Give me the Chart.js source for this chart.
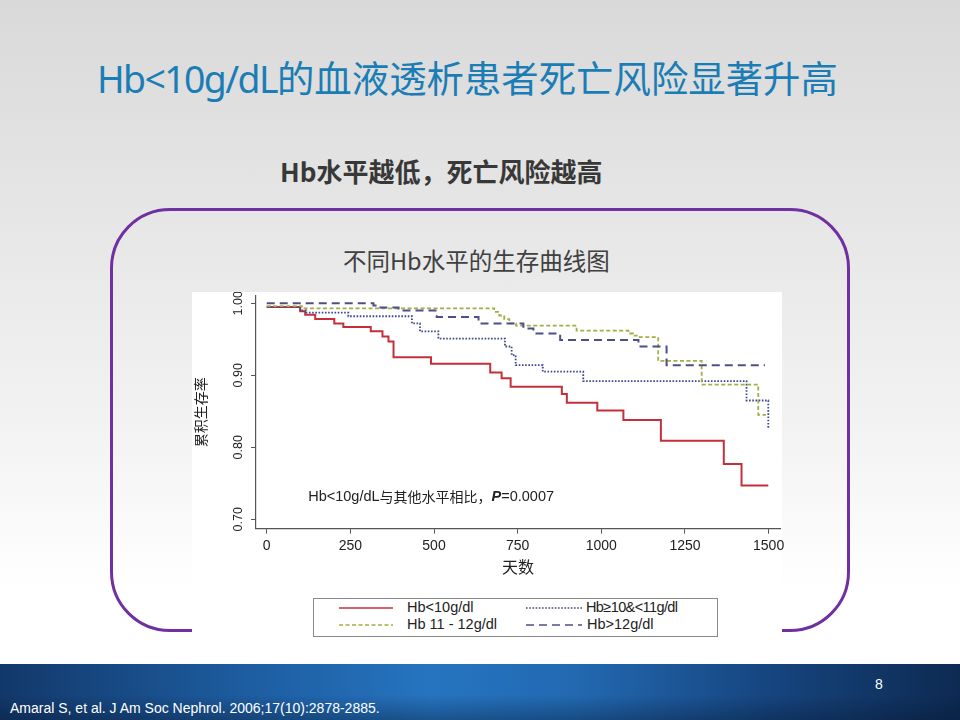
<!DOCTYPE html>
<html lang="zh-CN">
<head>
<meta charset="utf-8">
<title>Hb&lt;10g/dL的血液透析患者死亡风险显著升高</title>
<script src="https://cdn.jsdelivr.net/npm/chart.js@4.4.1/dist/chart.umd.min.js"></script>
<style>
  html, body { margin: 0; padding: 0; }
  body { width: 960px; height: 720px; overflow: hidden; }
  .slide {
    position: relative;
    width: 960px;
    height: 720px;
    background: linear-gradient(180deg, #d9d9d9 0%, #e6e6e6 30%, #f3f3f3 60%, #ffffff 82%, #ffffff 100%);
    font-family: "Noto Sans CJK SC", "Noto Sans", sans-serif;
    overflow: hidden;
  }
  .title {
    position: absolute;
    left: 97px; top: 50px;
    white-space: nowrap;
    font-size: 37.4px;
    color: #1b7db5;
  }
  .title .latin { font-family: "Noto Sans", sans-serif; letter-spacing: -1.6px; }
  .subtitle {
    position: absolute;
    left: 280px; top: 152px;
    white-space: nowrap;
    font-size: 26px;
    font-weight: bold;
    color: #383838;
  }
  .panel {
    position: absolute;
    left: 110px; top: 208px;
    width: 740px; height: 424px;
    border: 3px solid #7030a0;
    border-radius: 60px;
    box-sizing: border-box;
  }
  .panel-title {
    position: absolute;
    left: 343px; top: 243px;
    white-space: nowrap;
    font-size: 23.5px;
    color: #404040;
  }
  .figure {
    position: absolute;
    left: 192px; top: 292px;
    width: 590px; height: 348px;
    background: #ffffff;
  }
  #km { position: absolute; left: 0; top: 0; }
  .legend {
    position: absolute;
    left: 121px; top: 306px;
    width: 405px; height: 39px;
    border: 1px solid #8a8a8a;
    box-sizing: border-box;
    font-family: "Liberation Sans", Arial, sans-serif;
    font-size: 14.5px;
    color: #222;
  }
  .legend .item { position: absolute; height: 17px; line-height: 17px; white-space: nowrap; }
  .legend svg { position: absolute; left: 0; top: 0; }
  .legend span { position: absolute; top: 0; }
  .footer {
    position: absolute;
    left: 0; top: 664px; width: 960px; height: 56px;
    background:
      linear-gradient(180deg, rgba(0,0,0,0) 0%, rgba(0,0,0,0) 55%, rgba(5,20,45,0.35) 100%),
      linear-gradient(90deg, #12386a 0%, #1d5c9f 25%, #2674c0 45%, #2269b1 60%, #16457f 80%, #0d2a52 100%);
  }
  .page-no {
    position: absolute;
    left: 875px; top: 676px;
    font-family: "Liberation Sans Narrow", "Liberation Sans", sans-serif;
    font-size: 14px;
    color: #ffffff;
  }
  .cite {
    position: absolute;
    left: 10px; top: 700px;
    font-family: "Liberation Sans Narrow", "Liberation Sans", sans-serif;
    font-size: 14px;
    color: #ffffff;
  }
</style>
</head>
<body>
<div class="slide">
  <div class="title"><span class="latin">Hb&lt;10g/dL</span>的血液透析患者死亡风险显著升高</div>
  <div class="subtitle">Hb水平越低，死亡风险越高</div>
  <div class="panel"></div>
  <div class="panel-title">不同Hb水平的生存曲线图</div>
  <div class="figure">
    <canvas id="km" width="604" height="300"></canvas>
    <div class="legend" id="legend"></div>
  </div>
  <div class="footer"></div>
  <div class="page-no">8</div>
  <div class="cite">Amaral S, et al. J Am Soc Nephrol. 2006;17(10):2878-2885.</div>
</div>
<script>
(function () {
  "use strict";

  // axis ticks
  const xTickValues = [0, 250, 500, 750, 1000, 1250, 1500];
  const yTickValues = [0.7, 0.8, 0.9, 1.0];

  const seriesLabels = ["Hb<10g/dl", "Hb≥10&<11g/dl", "Hb 11 - 12g/dl", "Hb>12g/dl"];

  // Kaplan-Meier steps: day of drop, survival after drop
  const hbLt10Days = [0, 100, 115, 145, 202, 229, 311, 346, 364, 379, 491, 668, 702, 729, 882, 897, 988, 1066, 1178, 1366, 1419, 1499];
  const hbLt10Surv = [0.995, 0.989, 0.984, 0.978, 0.972, 0.967, 0.961, 0.954, 0.947, 0.925, 0.916, 0.904, 0.896, 0.884, 0.874, 0.862, 0.851, 0.838, 0.809, 0.777, 0.747, 0.747];

  const hb10to11Days = [0, 100, 118, 244, 434, 458, 513, 712, 732, 744, 825, 946, 1434, 1499];
  const hb10to11Surv = [0.995, 0.990, 0.987, 0.982, 0.972, 0.961, 0.951, 0.940, 0.928, 0.914, 0.905, 0.892, 0.865, 0.825];

  const hb11to12Days = [0, 105, 680, 695, 710, 725, 745, 926, 1081, 1095, 1110, 1170, 1300, 1469, 1492];
  const hb11to12Surv = [0.996, 0.993, 0.988, 0.983, 0.978, 0.972, 0.969, 0.962, 0.958, 0.955, 0.953, 0.920, 0.887, 0.845, 0.845];

  const hbGt12Days = [0, 309, 319, 329, 394, 508, 633, 767, 797, 877, 1111, 1195, 1489];
  const hbGt12Surv = [1.000, 1.000, 0.997, 0.994, 0.990, 0.981, 0.972, 0.965, 0.958, 0.949, 0.940, 0.914, 0.914];

  const X_MIN = -32;
  const X_MAX = 1534;
  const Y_MIN = 0.687;
  const Y_MAX = 1.0101;

  const NOTE_DAY = 124;
  const NOTE_SURV = 0.731;

  const AXIS_COLOR = "#555555";
  const TEXT_COLOR = "#222222";
  const LATIN_FONT = '"Liberation Sans", Arial, sans-serif';
  const CJK_FONT = '"Noto Sans CJK SC", "Liberation Sans", sans-serif';

  const seriesStyles = [
    { color: "#c4303a", dash: [], width: 2 },
    { color: "#3b4790", dash: [1.6, 1.6], width: 1.8 },
    { color: "#a3ae45", dash: [4, 2.5], width: 1.8 },
    { color: "#4d4f88", dash: [8, 5], width: 2 },
  ];

  function toPoints(days, surv) {
    return days.map((d, i) => ({ x: d, y: surv[i] }));
  }

  const seriesData = [
    toPoints(hbLt10Days, hbLt10Surv),
    toPoints(hb10to11Days, hb10to11Surv),
    toPoints(hb11to12Days, hb11to12Surv),
    toPoints(hbGt12Days, hbGt12Surv),
  ];

  // red at the bottom, dotted over it, dashed ones on top
  const drawOrder = [4, 3, 2, 1];

  const pValueNote = {
    id: "pValueNote",
    afterDatasetsDraw(chart) {
      const ctx = chart.ctx;
      const x0 = chart.scales.x.getPixelForValue(NOTE_DAY);
      const y0 = chart.scales.y.getPixelForValue(NOTE_SURV);
      const parts = [
        { text: "Hb<10g/dL", font: "14.5px " + LATIN_FONT },
        { text: "与其他水平相比，", font: "14px " + CJK_FONT },
        { text: "P", font: "italic bold 14.5px " + LATIN_FONT },
        { text: "=0.0007", font: "14.5px " + LATIN_FONT },
      ];
      ctx.save();
      ctx.fillStyle = TEXT_COLOR;
      ctx.textBaseline = "middle";
      ctx.textAlign = "left";
      let x = x0;
      parts.forEach((p) => {
        ctx.font = p.font;
        ctx.fillText(p.text, x, y0);
        x += ctx.measureText(p.text).width;
      });
      ctx.restore();
    },
  };

  new Chart(document.getElementById("km"), {
    type: "line",
    data: {
      datasets: seriesData.map((pts, i) => ({
        label: seriesLabels[i],
        data: pts,
        stepped: true,
        borderColor: seriesStyles[i].color,
        borderWidth: seriesStyles[i].width,
        borderDash: seriesStyles[i].dash,
        borderCapStyle: "butt",
        pointRadius: 0,
        fill: false,
        order: drawOrder[i],
      })),
    },
    options: {
      responsive: false,
      animation: false,
      events: [],
      layout: { padding: { top: 4, right: 16, left: 0, bottom: 0 } },
      plugins: {
        legend: { display: false },
        tooltip: { enabled: false },
      },
      scales: {
        x: {
          type: "linear",
          min: X_MIN,
          max: X_MAX,
          afterBuildTicks: (s) => { s.ticks = xTickValues.map((v) => ({ value: v })); },
          afterFit: (s) => { s.height = 63.3; s.paddingLeft = 0; s.paddingRight = 0; },
          grid: { drawOnChartArea: false, drawTicks: true, tickLength: 5, color: AXIS_COLOR, lineWidth: 1 },
          border: { display: true, color: AXIS_COLOR, width: 1.2 },
          ticks: {
            padding: 4,
            maxRotation: 0,
            color: TEXT_COLOR,
            font: { family: LATIN_FONT, size: 14 },
            callback: (v) => String(v),
          },
          title: {
            display: true,
            text: "天数",
            color: TEXT_COLOR,
            font: { family: CJK_FONT, size: 16 },
            padding: { top: 0, bottom: 15 },
          },
        },
        y: {
          type: "linear",
          min: Y_MIN,
          max: Y_MAX,
          afterBuildTicks: (s) => { s.ticks = yTickValues.map((v) => ({ value: v })); },
          afterFit: (s) => { s.width = 64; s.paddingTop = 0; s.paddingBottom = 0; },
          grid: { drawOnChartArea: false, drawTicks: true, tickLength: 5, color: AXIS_COLOR, lineWidth: 1 },
          border: { display: true, color: AXIS_COLOR, width: 1.2 },
          ticks: {
            padding: 0,
            minRotation: 90,
            maxRotation: 90,
            crossAlign: "center",
            color: TEXT_COLOR,
            font: { family: LATIN_FONT, size: 12.5 },
            callback: (v) => Number(v).toFixed(2),
          },
          title: {
            display: true,
            text: "累积生存率",
            color: TEXT_COLOR,
            font: { family: CJK_FONT, size: 14 },
            padding: { top: 0, bottom: 0 },
          },
        },
      },
    },
    plugins: [pValueNote],
  });

  // legend box under the plot
  const legendSlots = [
    { left: 25, top: 8, textLeft: 93 },
    { left: 212, top: 8, textLeft: 272 },
    { left: 25, top: 25, textLeft: 93 },
    { left: 212, top: 25, textLeft: 273 },
  ];
  const legendOrder = [0, 1, 2, 3];
  const legend = document.getElementById("legend");
  legendOrder.forEach((si, k) => {
    const slot = legendSlots[k];
    const st = seriesStyles[si];
    const item = document.createElement("div");
    item.className = "item";
    item.style.left = slot.left + "px";
    item.style.top = (slot.top - 8) + "px";
    const lineLen = si === 0 || si === 2 ? 54 : 56;
    item.innerHTML =
      '<svg width="' + lineLen + '" height="17"><line x1="0" y1="9" x2="' + lineLen +
      '" y2="9" stroke="' + st.color + '" stroke-width="' + (st.width * 0.8) +
      '" stroke-dasharray="' + (st.dash.length ? st.dash.join(",") : "none") + '"/></svg>' +
      '<span style="left:' + (slot.textLeft - slot.left) + 'px"></span>';
    item.querySelector("span").textContent = seriesLabels[si];
    if (si === 1) item.querySelector("span").style.letterSpacing = "-0.6px";
    legend.appendChild(item);
  });
})();
</script>
</body>
</html>
